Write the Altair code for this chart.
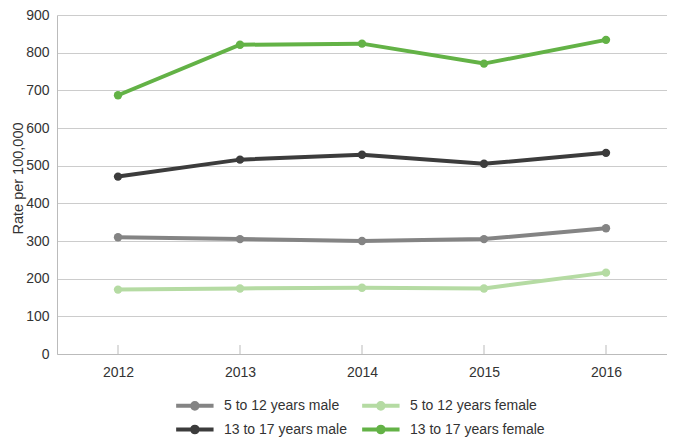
import altair as alt
import pandas as pd

years = ["2012", "2013", "2014", "2015", "2016"]
series_names = ["5 to 12 years male", "5 to 12 years female", "13 to 17 years male", "13 to 17 years female"]
male_5_12 = [310, 305, 300, 305, 334]
female_5_12 = [171, 174, 176, 174, 216]
male_13_17 = [471, 516, 529, 505, 534]
female_13_17 = [687, 821, 824, 771, 834]
colors = ["#848484", "#b5dba3", "#3c3c3c", "#63b246"]

rows = []
for name, vals in zip(series_names, [male_5_12, female_5_12, male_13_17, female_13_17]):
    for y, v in zip(years, vals):
        rows.append({"Year": y, "Series": name, "Rate": v})
df = pd.DataFrame(rows)
ticks_df = pd.DataFrame({"Year": years})

W, H = 610, 339

color = alt.Color(
    "Series:N",
    scale=alt.Scale(domain=series_names, range=colors),
    sort=series_names,
    legend=alt.Legend(
        title=None,
        orient="none",
        direction="horizontal",
        legendX=117,
        legendY=379,
        padding=0,
        columns=2,
        columnPadding=7,
        rowPadding=1,
        symbolType="M-1,0L3,0M0.7,0A0.3,0.3,0,1,1,1.3,0A0.3,0.3,0,1,1,0.7,0",
        symbolSize=350,
        symbolStrokeWidth=4,
        labelOffset=27,
        labelFont="Liberation Sans",
        labelFontSize=14,
        labelColor="#333333",
        labelLimit=300,
    ),
)

x_scale = alt.Scale(type="point", domain=years, padding=0.5)

x_enc = alt.X(
    "Year:O",
    title=None,
    sort=years,
    scale=x_scale,
    axis=alt.Axis(
        labelAngle=0,
        labelAlign="center",
        labelFont="Liberation Sans",
        labelFontSize=14,
        labelColor="#333333",
        labelPadding=18,
        ticks=False,
        domainColor="#bbbbbb",
        grid=False,
    ),
)

base = alt.Chart(df).encode(
    x=x_enc,
    y=alt.Y(
        "Rate:Q",
        title="Rate per 100,000",
        scale=alt.Scale(domain=[0, 900], nice=False),
        axis=alt.Axis(
            values=list(range(0, 901, 100)),
            labelFont="Liberation Sans",
            labelFontSize=14,
            labelColor="#333333",
            titleFont="Liberation Sans",
            titleFontSize=14.5,
            titleFontWeight="normal",
            titleColor="#333333",
            titlePadding=0,
            titleY=163,
            ticks=False,
            labelPadding=8,
            domainColor="#bbbbbb",
            gridColor="#cccccc",
        ),
    ),
    color=color,
)

tick_marks = alt.Chart(ticks_df).mark_rule(color="#bbbbbb", strokeWidth=1).encode(
    x=alt.X("Year:O", sort=years, scale=x_scale),
    y=alt.value(H - 9),
    y2=alt.value(H),
)

lines = base.mark_line(strokeWidth=4)
points = base.mark_circle(size=70, opacity=1)

chart = (
    alt.layer(tick_marks, lines, points)
    .properties(
        width=W,
        height=H,
        autosize=alt.AutoSizeParams(type="none"),
        padding={"left": 49, "top": 7, "right": 0, "bottom": 86},
    )
    .configure_view(stroke=None)
)

chart.save("out.html", embed_options={"renderer": "svg", "actions": False})
